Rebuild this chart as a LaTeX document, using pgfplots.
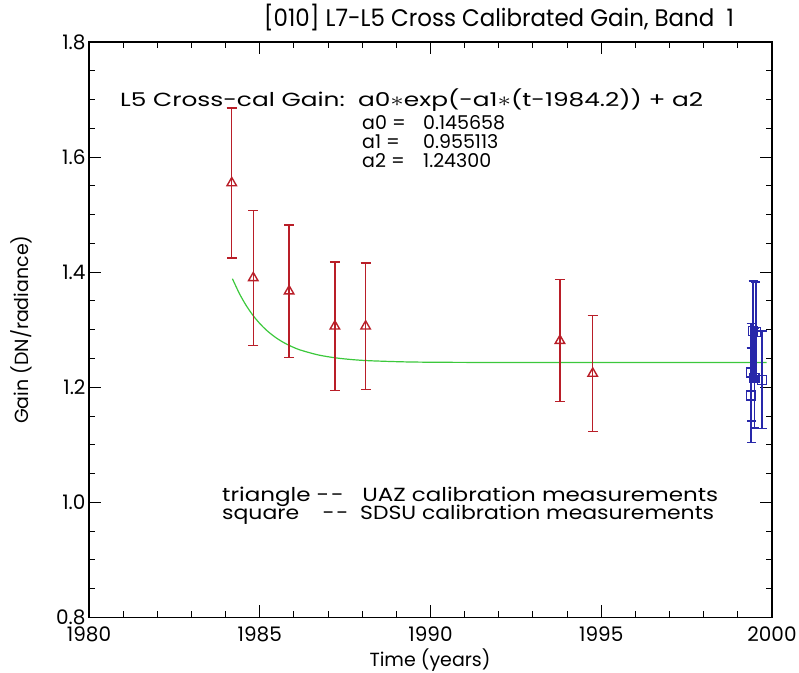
\documentclass[border=0pt]{standalone}
\usepackage{fontspec}
\setmainfont{Poppins}[Ligatures=NoCommon]
\usepackage{graphicx}
\usepackage{pgfplots}
\pgfplotsset{compat=1.18}
\definecolor{uazred}{RGB}{185,30,40}
\definecolor{sdsublue}{RGB}{40,40,170}
\definecolor{fitgreen}{RGB}{60,200,60}
\newsavebox\fitbox
\newcommand\fitw[2]{\sbox\fitbox{#2}\scalebox{\fpeval{(#1)/(\the\wd\fitbox)}}[1]{\usebox\fitbox}}
\newcommand\tfont{\fontsize{20bp}{24bp}\selectfont}
\newcommand\dd{\mbox{-}\kern1.5bp\mbox{-}}

\pgfplotstableread{
x y e
1984.18 1.555 0.130
1984.81 1.390 0.117
1985.86 1.367 0.115
1987.20 1.306 0.112
1988.10 1.306 0.110
1993.79 1.281 0.106
1994.75 1.224 0.101
}\uaz

\pgfplotstableread{
x y e
1999.39 1.186 0.082
1999.39 1.226 0.085
1999.45 1.298 0.087
1999.53 1.296 0.087
1999.49 1.216 0.087
1999.71 1.213 0.085
}\sdsu

\begin{document}
\begin{tikzpicture}[x=1bp,y=1bp]
\useasboundingbox (-89,-55.5) rectangle (710,617.5);
\begin{axis}[
  scale only axis, width=683bp, height=575.5bp,
  xmin=1980, xmax=2000, ymin=0.8, ymax=1.8,
  xtick={1980,1985,1990,1995,2000},
  ytick={0.8,1,1.2,1.4,1.6,1.8},
  minor x tick num=4, minor y tick num=3,
  major tick length=12bp, minor tick length=6bp,
  axis line style={black, line width=1.1bp},
  tick style={black, line width=1bp},
  /pgf/number format/assume math mode=true,
  ticklabel style={font=\tfont},
  xticklabel style={/pgf/number format/1000 sep={}, yshift=-6bp},
  yticklabel style={/pgf/number format/.cd, fixed, fixed zerofill, precision=1},
  clip=false,
]
\addplot[fitgreen, line width=1.2bp, smooth] coordinates {
(1984.20,1.388658) (1984.40,1.363331) (1984.60,1.342408) (1984.80,1.325123)
(1985.00,1.310844) (1985.20,1.299047) (1985.45,1.287140) (1985.70,1.277763)
(1985.95,1.270377) (1986.20,1.264565) (1986.70,1.256379) (1987.20,1.251295)
(1987.70,1.248146) (1988.20,1.246193) (1989.20,1.244228) (1990.20,1.243473)
(1992.20,1.243070) (1994.20,1.243010) (1999.84,1.243000)};
\addplot[uazred, line width=1.5bp, mark=triangle, mark size=5.5bp, only marks,
  mark options={solid, line width=1.4bp},
  error bars/.cd, y dir=both, y explicit,
  error bar style={line width=1.5bp, uazred},
  error mark options={rotate=90, line width=1.5bp, uazred, mark size=5bp}]
  table[x=x, y=y, y error=e] {\uaz};
\addplot[sdsublue, line width=1.5bp, mark=square, mark size=4.5bp, only marks,
  mark options={solid, line width=1.4bp},
  error bars/.cd, y dir=both, y explicit,
  error bar style={line width=1.5bp, sdsublue},
  error mark options={rotate=90, line width=1.5bp, sdsublue, mark size=4.5bp}]
  table[x=x, y=y, y error=e] {\sdsu};
\end{axis}
\node[anchor=center, inner sep=0pt] at (410,599.5) {\fitw{470bp}{\fontsize{24bp}{28bp}\selectfont [010] L7-L5 Cross Calibrated Gain, Band\ \ 1}};
\node[anchor=west, inner sep=0pt] at (31,517.5) {\fitw{583bp}{\fontsize{19bp}{22bp}\selectfont L5 Cross-cal Gain:\ \ a0$\ast$exp(-a1$\ast$(t-1984.2)) + a2}};
\node[anchor=west, inner sep=0pt] at (273,494.5) {\fontsize{19bp}{22bp}\selectfont a0 =};
\node[anchor=west, inner sep=0pt] at (273,475.5) {\fontsize{19bp}{22bp}\selectfont a1 =};
\node[anchor=west, inner sep=0pt] at (273,456.5) {\fontsize{19bp}{22bp}\selectfont a2 =};
\node[anchor=west, inner sep=0pt] at (334,494.5) {\fontsize{19bp}{22bp}\selectfont 0.145658};
\node[anchor=west, inner sep=0pt] at (334,475.5) {\fontsize{19bp}{22bp}\selectfont 0.955113};
\node[anchor=west, inner sep=0pt] at (334,456.5) {\fontsize{19bp}{22bp}\selectfont 1.24300};
\node[anchor=west, inner sep=0pt] at (133,120.5) {\fitw{496bp}{\fontsize{19bp}{22bp}\selectfont triangle \dd\ \ \ UAZ calibration measurements}};
\node[anchor=west, inner sep=0pt] at (133,102.5) {\fitw{492bp}{\fontsize{19bp}{22bp}\selectfont square\ \ \ \ \dd\ \ SDSU calibration measurements}};
\node[anchor=center, inner sep=0pt, rotate=90] at (-68,287.75) {\fontsize{19bp}{22bp}\selectfont Gain (DN/radiance)};
\node[anchor=center, inner sep=0pt] at (341,-42.5) {\fontsize{19bp}{22bp}\selectfont Time (years)};
\end{tikzpicture}
\end{document}
